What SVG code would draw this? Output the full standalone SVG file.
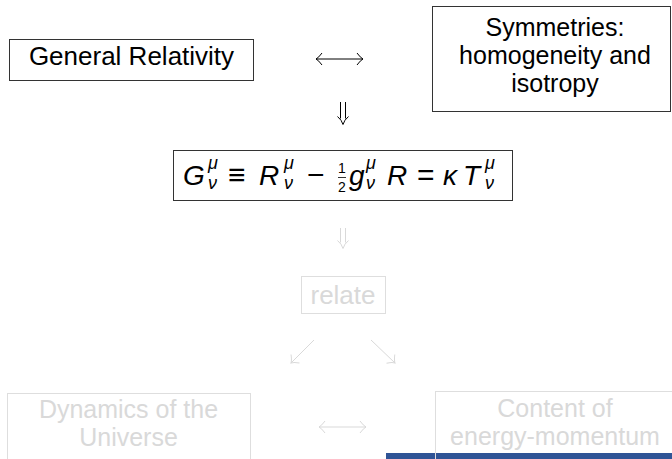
<svg xmlns="http://www.w3.org/2000/svg" width="672" height="459" viewBox="0 0 672 459">
<defs>
<style>
text{font-family:"Liberation Sans",Arial,Helvetica,sans-serif;font-size:25px;text-anchor:middle}
.dark text{fill:#000}
.light text{fill:#d9d9d9}
.box{fill:none;stroke:#333;stroke-width:1}
.lbox{fill:none;stroke:#dedede;stroke-width:1}
.m{font-size:28px;font-style:italic;text-anchor:start}
.o{font-size:30px;text-anchor:start}
.s{font-size:18px;font-style:italic;text-anchor:start}
.f{font-size:14px;font-style:normal}
.cd{fill:none;stroke:#000;stroke-width:1}
.cl{fill:none;stroke:#d9d9d9;stroke-width:1}
</style>
<marker id="hd" viewBox="-8 -7 10 14" refX="0" refY="0" markerWidth="10" markerHeight="14" markerUnits="userSpaceOnUse" orient="auto-start-reverse">
<path d="M-6,-6 Q-2.5,-1.2 0,0 Q-2.5,1.2 -6,6" fill="none" stroke="#000" stroke-width="1"/>
</marker>
<marker id="hl" viewBox="-8 -7 10 14" refX="0" refY="0" markerWidth="10" markerHeight="14" markerUnits="userSpaceOnUse" orient="auto-start-reverse">
<path d="M-6,-6 Q-2.5,-1.2 0,0 Q-2.5,1.2 -6,6" fill="none" stroke="#d9d9d9" stroke-width="1"/>
</marker>
</defs>
<rect width="672" height="459" fill="#fff"/>
<rect id="footer-bar" x="386" y="453" width="286" height="6" fill="#2f5496"/>

<g id="general-relativity" class="dark">
<rect class="box" x="9.5" y="39.5" width="244" height="41"/>
<text x="131.5" y="65" style="font-size:26px">General Relativity</text>
</g>

<g id="symmetries" class="dark">
<rect class="box" x="432.5" y="6.5" width="238" height="105"/>
<text x="555" y="36">Symmetries:</text>
<text x="555" y="64">homogeneity and</text>
<text x="555" y="92">isotropy</text>
</g>

<g id="einstein-equation" class="dark">
<rect class="box" x="173.5" y="150.5" width="339" height="50"/>
<text class="m" x="183" y="185">G</text>
<text class="s" x="208" y="169">μ</text>
<text class="s" x="208" y="189">ν</text>
<text class="o" x="228" y="185">≡</text>
<text class="m" x="259" y="185">R</text>
<text class="s" x="284" y="169">μ</text>
<text class="s" x="284" y="189">ν</text>
<text class="o" x="307" y="185">−</text>
<text class="f" x="342" y="173">1</text>
<line x1="338" y1="177.5" x2="346" y2="177.5" stroke="#000" stroke-width="0.8"/>
<text class="f" x="342" y="192">2</text>
<text class="m" x="349" y="185">g</text>
<text class="s" x="366" y="169">μ</text>
<text class="s" x="366" y="189">ν</text>
<text class="m" x="387" y="185">R</text>
<text class="o" x="417" y="185">=</text>
<text class="m" x="443" y="185">κ</text>
<text class="m" x="463" y="185">T</text>
<text class="s" x="485" y="169">μ</text>
<text class="s" x="485" y="189">ν</text>
</g>

<g id="relate" class="light">
<rect class="lbox" x="301.5" y="276.5" width="84" height="37"/>
<text x="343" y="304" style="font-size:26px">relate</text>
</g>

<g id="dynamics" class="light">
<rect class="lbox" x="7.5" y="393.5" width="243" height="80"/>
<text x="128.5" y="418">Dynamics of the</text>
<text x="128.5" y="446">Universe</text>
</g>

<g id="content" class="light">
<rect class="lbox" x="435.5" y="391.5" width="250" height="80"/>
<text x="555" y="417">Content of</text>
<text x="555" y="445">energy-momentum</text>
</g>

<g id="connectors">
<line class="cd" x1="316" y1="59" x2="363" y2="59" marker-start="url(#hd)" marker-end="url(#hd)"/>
<path class="cd" d="M340.5,102 V118.5 M345.5,102 V118.5 M337.5,116.5 Q341.8,120 343,124.5 Q344.2,120 348.5,116.5"/>
<path class="cl" d="M340.5,228 V242.5 M345.5,228 V242.5 M337.5,240.5 Q341.8,244 343,248.5 Q344.2,244 348.5,240.5"/>
<line class="cl" x1="314" y1="340" x2="291" y2="363" marker-end="url(#hl)"/>
<line class="cl" x1="371" y1="340" x2="395" y2="363" marker-end="url(#hl)"/>
<line class="cl" x1="319" y1="427" x2="366" y2="427" marker-start="url(#hl)" marker-end="url(#hl)"/>
</g>
</svg>
